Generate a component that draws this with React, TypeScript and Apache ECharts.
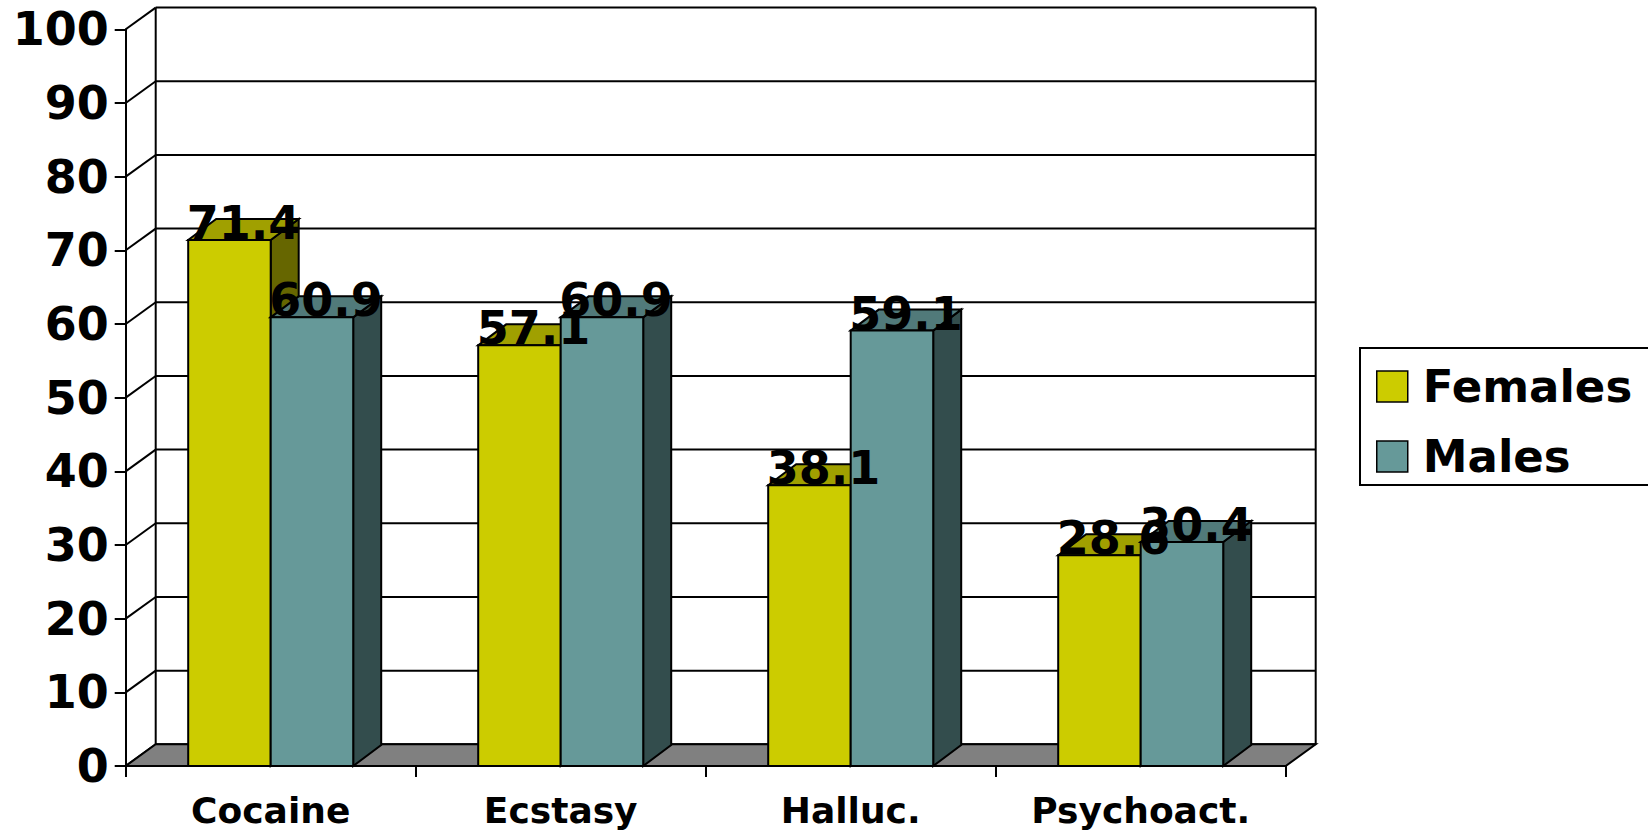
import React, { useEffect, useRef } from "react";
import * as echarts from "echarts";

// Share of users by substance, split by sex (percent)
const categories = ["Cocaine", "Ecstasy", "Halluc.", "Psychoact."];
const females = [71.4, 57.1, 38.1, 28.6];
const males = [60.9, 60.9, 59.1, 30.4];
const yTicks = [0, 10, 20, 30, 40, 50, 60, 70, 80, 90, 100];
const seriesNames = ["Females", "Males"];

const FONT = "DejaVu Sans";
// depth offsets of the pseudo-3D box (walls) and of the columns
const WDX = 30;
const WDY = -21.7;
const BDX = 28;
const BDY = -21;
const BAR_FRAC = 0.2845;

const palette = [
  { front: "#CCCC00", top: "#A0A000", side: "#666600" },
  { front: "#669999", top: "#517A7A", side: "#334D4D" },
];

const edge = { stroke: "#000", lineWidth: 2, lineJoin: "miter" };

function barGeom(api: any, side: number) {
  const idx = api.value(0);
  const val = api.value(1);
  const base = api.coord([idx, 0]);
  const head = api.coord([idx, val]);
  const w = api.size([1, 0])[0] * BAR_FRAC;
  const x0 = side === 0 ? base[0] - w : base[0];
  return { x0, x1: x0 + w, yb: base[1], yt: head[1], val };
}

const renderBar = (side: number) => (params: any, api: any) => {
  const c = palette[side];
  const { x0, x1, yb, yt } = barGeom(api, side);
  return {
    type: "group",
    children: [
      {
        type: "polygon",
        shape: { points: [[x1, yt], [x1 + BDX, yt + BDY], [x1 + BDX, yb + BDY], [x1, yb]] },
        style: { fill: c.side, ...edge },
      },
      {
        type: "polygon",
        shape: { points: [[x0, yt], [x1, yt], [x1 + BDX, yt + BDY], [x0 + BDX, yt + BDY]] },
        style: { fill: c.top, ...edge },
      },
      {
        type: "rect",
        shape: { x: x0, y: yt, width: x1 - x0, height: yb - yt },
        style: { fill: c.front, ...edge },
      },
    ],
  };
};

const renderLabel = (params: any, api: any) => {
  const side = api.value(2);
  const { x0, x1, yt, val } = barGeom(api, side);
  return {
    type: "text",
    x: (x0 + x1 + BDX) / 2,
    y: yt - 17,
    style: {
      text: val.toFixed(1),
      fill: "#000",
      fontFamily: FONT,
      fontWeight: "bold",
      fontSize: 46,
      align: "center",
      verticalAlign: "middle",
    },
  };
};

// back wall grid lines, left wall lines and the floor
const renderWalls = (params: any, api: any) => {
  const cs = params.coordSys;
  const gx = cs.x;
  const gr = cs.x + cs.width;
  const v = api.value(0);
  const y = api.coord([0, v])[1];
  const line = { stroke: "#000", lineWidth: 2 };
  const children: any[] = [
    { type: "line", shape: { x1: gx + WDX, y1: y + WDY, x2: gr + WDX, y2: y + WDY }, style: line },
    { type: "line", shape: { x1: gx, y1: y, x2: gx + WDX, y2: y + WDY }, style: line },
  ];
  if (v === 0) {
    const yTop = api.coord([0, 100])[1];
    children.push(
      { type: "line", shape: { x1: gx + WDX, y1: yTop + WDY, x2: gx + WDX, y2: y + WDY }, style: line },
      { type: "line", shape: { x1: gr + WDX, y1: yTop + WDY, x2: gr + WDX, y2: y + WDY }, style: line },
      {
        type: "polygon",
        shape: { points: [[gx, y], [gr, y], [gr + WDX, y + WDY], [gx + WDX, y + WDY]] },
        style: { fill: "#808080", stroke: "#000", lineWidth: 2 },
      }
    );
  }
  return { type: "group", children };
};

export default function App() {
  const ref = useRef<HTMLDivElement>(null);

  useEffect(() => {
    if (!ref.current) return;
    const chart = echarts.init(ref.current, undefined, { renderer: "svg" });
    const labelData = [
      ...females.map((v, i) => [i, v, 0]),
      ...males.map((v, i) => [i, v, 1]),
    ];
    chart.setOption({
      animation: false,
      backgroundColor: "#fff",
      grid: { left: 125.7, right: 362.3, top: 29.3, bottom: 69 },
      legend: {
        data: seriesNames,
        orient: "vertical",
        left: 1360,
        top: 348,
        selectedMode: false,
        icon: "rect",
        itemWidth: 31,
        itemHeight: 31,
        itemGap: 25,
        padding: [16, 80, 6, 16],
        borderColor: "#000",
        borderWidth: 2,
        itemStyle: { borderColor: "#000", borderWidth: 1.5 },
        textStyle: {
          fontFamily: FONT,
          fontWeight: "bold",
          fontSize: 45,
          color: "#000",
          lineHeight: 40,
          padding: [0, 0, 0, 10],
        },
      },
      xAxis: {
        type: "category",
        data: categories,
        axisLine: { lineStyle: { color: "#000", width: 2 } },
        axisTick: { show: true, length: 11, lineStyle: { color: "#000", width: 2 } },
        axisLabel: {
          margin: 26,
          color: "#000",
          fontFamily: FONT,
          fontWeight: "bold",
          fontSize: 36,
        },
        splitLine: { show: false },
      },
      yAxis: {
        type: "value",
        min: 0,
        max: 100,
        interval: 10,
        axisLine: { show: true, lineStyle: { color: "#000", width: 2 } },
        axisTick: { show: true, length: 11, lineStyle: { color: "#000", width: 2 } },
        axisLabel: {
          margin: 17,
          color: "#000",
          fontFamily: FONT,
          fontWeight: "bold",
          fontSize: 46,
        },
        splitLine: { show: false },
      },
      series: [
        {
          type: "custom",
          name: "walls",
          z: 1,
          renderItem: renderWalls,
          data: yTicks.map((v) => [v]),
          encode: { y: 0 },
          silent: true,
        },
        {
          type: "custom",
          name: seriesNames[0],
          z: 2,
          itemStyle: { color: palette[0].front },
          renderItem: renderBar(0),
          data: females.map((v, i) => [i, v]),
          encode: { x: 0, y: 1 },
        },
        {
          type: "custom",
          name: seriesNames[1],
          z: 3,
          itemStyle: { color: palette[1].front },
          renderItem: renderBar(1),
          data: males.map((v, i) => [i, v]),
          encode: { x: 0, y: 1 },
        },
        {
          type: "custom",
          name: "values",
          z: 10,
          renderItem: renderLabel,
          data: labelData,
          encode: { x: 0, y: 1 },
          silent: true,
        },
      ],
    });
    return () => chart.dispose();
  }, []);

  return (
    <div
      ref={ref}
      style={{ position: "fixed", left: 0, top: 0, width: 1648, height: 835, background: "#fff" }}
    />
  );
}
